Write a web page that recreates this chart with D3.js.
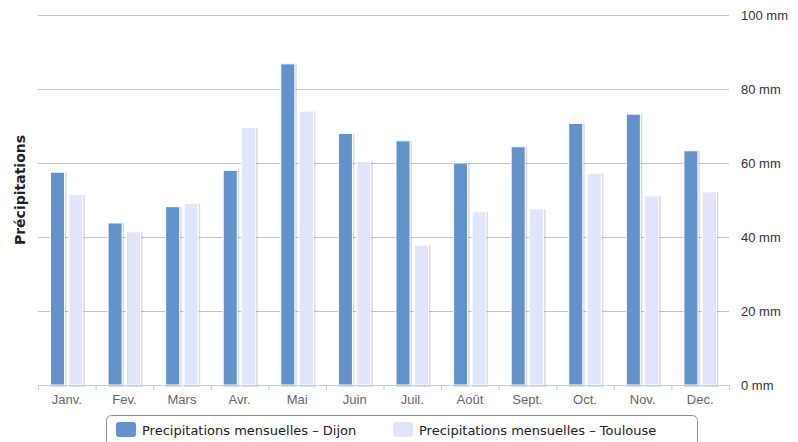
<!DOCTYPE html>
<html>
<head>
<meta charset="utf-8">
<script src="https://cdn.jsdelivr.net/npm/d3@7"></script>
<style>
  body { margin: 0; background: #fff; }
  svg { font-family: "Lucida Grande", "DejaVu Sans", sans-serif; }
</style>
</head>
<body>
<div id="chart"></div>
<script>
const months = ['Janv.', 'Fev.', 'Mars', 'Avr.', 'Mai', 'Juin', 'Juil.', 'Août', 'Sept.', 'Oct.', 'Nov.', 'Dec.']
const seriesNames = ['Precipitations mensuelles - Dijon', 'Precipitations mensuelles - Toulouse']
const dijon = [57.5, 43.8, 48.2, 58, 86.8, 68, 66, 60, 64.4, 70.7, 73.2, 63.3]
const toulouse = [51.4, 41.4, 49.1, 69.6, 74, 60.4, 37.8, 46.8, 47.6, 57.2, 51.1, 52.2]
const yTicks = [0, 20, 40, 60, 80, 100]
const colors = ['#6391c9', '#e0e5f9']

const margin = { top: 15, left: 38, right: 69, bottom: 57 }
const width = 798 - margin.left - margin.right
const height = 442 - margin.top - margin.bottom

const svg = d3.select('#chart')
  .append('svg')
  .attr('width', 798)
  .attr('height', 442)

const g = svg.append('g')
  .attr('transform', 'translate(' + margin.left + ',' + margin.top + ')')

const x0 = d3.scaleBand().domain(months).range([0, width]).padding(0)
const bw = x0.bandwidth()
const x1 = d3.scaleBand().domain([0, 1]).range([bw * 0.217, bw * 0.781]).paddingInner(0.24)
const y = d3.scaleLinear().domain([0, 100]).range([height, 0])

// grid lines
g.append('g')
  .selectAll('line')
  .data(yTicks.filter(d => d > 0))
  .enter()
  .append('line')
  .attr('x1', 0)
  .attr('x2', width)
  .attr('y1', d => y(d) + 0.5)
  .attr('y2', d => y(d) + 0.5)
  .attr('stroke', '#c4c4c4')
  .attr('stroke-width', 1)

// right axis labels
const yAxis = d3.axisRight(y)
  .tickValues(yTicks)
  .tickSize(0)
  .tickPadding(12)
  .tickFormat(d => d + ' mm')
g.append('g')
  .attr('class', 'y-axis')
  .attr('transform', 'translate(' + width + ',0)')
  .call(yAxis)
  .call(s => s.select('.domain').remove())
  .selectAll('text')
  .attr('fill', '#333')
  .attr('font-size', '13px')

// bars
const data = months.map((m, i) => ({ month: m, values: [dijon[i], toulouse[i]] }))
const groups = g.selectAll('.grp')
  .data(data)
  .enter()
  .append('g')
  .attr('transform', d => 'translate(' + x0(d.month) + ',0)')

const bars = groups.selectAll('g')
  .data(d => d.values.map((v, k) => ({ k: k, v: v })))
  .enter()
  .append('g')

// shadow
bars.append('rect')
  .attr('x', d => x1(d.k) + 1)
  .attr('y', d => y(d.v) + 1)
  .attr('width', x1.bandwidth())
  .attr('height', d => height - y(d.v))
  .attr('fill', 'none')
  .attr('stroke', 'rgba(0,0,0,0.14)')
  .attr('stroke-width', 2)

bars.append('rect')
  .attr('x', d => x1(d.k))
  .attr('y', d => y(d.v))
  .attr('width', x1.bandwidth())
  .attr('height', d => height - y(d.v))
  .attr('fill', d => colors[d.k])
  .attr('stroke', '#fff')
  .attr('stroke-width', 1)

// x axis
const xAxis = d3.axisBottom(x0).tickSize(0).tickPadding(10)
const xg = g.append('g')
  .attr('class', 'x-axis')
  .attr('transform', 'translate(0,' + height + ')')
  .call(xAxis)
xg.select('.domain').attr('stroke', '#c0d0e0').attr('d', 'M0,0.5H' + width)
xg.selectAll('text').attr('fill', '#666').attr('font-size', '13px')
xg.selectAll('.tickmark')
  .data(d3.range(months.length + 1))
  .enter()
  .append('line')
  .attr('x1', i => i * bw + 0.5)
  .attr('x2', i => i * bw + 0.5)
  .attr('y1', 0)
  .attr('y2', 5)
  .attr('stroke', '#c0d0e0')

// y title
svg.append('text')
  .attr('transform', 'translate(25,' + (margin.top + height / 2 - 10) + ') rotate(-90)')
  .attr('text-anchor', 'middle')
  .attr('font-weight', 'bold')
  .attr('font-size', '14px')
  .attr('fill', '#222')
  .text('Précipitations')

// legend
const legend = svg.append('g')
legend.append('rect')
  .attr('x', 106.5)
  .attr('y', 415.5)
  .attr('width', 591)
  .attr('height', 40)
  .attr('rx', 5)
  .attr('fill', '#fff')
  .attr('stroke', '#909090')

const legendX = [116, 393]
seriesNames.forEach((name, i) => {
  legend.append('rect')
    .attr('x', legendX[i])
    .attr('y', 422)
    .attr('width', 20)
    .attr('height', 15)
    .attr('rx', 3)
    .attr('fill', colors[i])
  legend.append('text')
    .attr('x', legendX[i] + 26)
    .attr('y', 435)
    .attr('font-size', '13px')
    .attr('fill', '#222')
    .text(name.replace(' - ', ' – '))
})
</script>
</body>
</html>
